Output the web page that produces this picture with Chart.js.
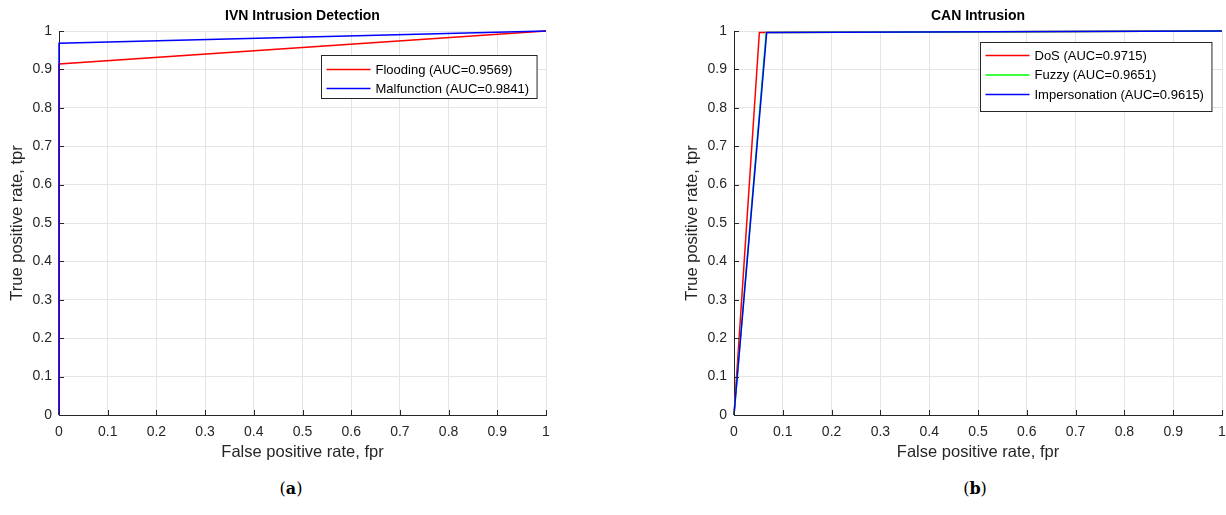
<!DOCTYPE html>
<html>
<head>
<meta charset="utf-8">
<script src="https://cdn.jsdelivr.net/npm/chart.js@4.4.1/dist/chart.umd.min.js"></script>
<style>
body{margin:0;width:1226px;height:515px;overflow:hidden;background:#fff;position:relative}
canvas{position:absolute;top:0}
#ivn{left:0}
#can{left:675px}
.cap{position:absolute;top:480px;transform:translateX(-50%);font-family:"DejaVu Serif",serif;font-size:16px;color:#000;line-height:18px}
</style>
</head>
<body>
<canvas id="ivn" width="560" height="470"></canvas>
<canvas id="can" width="560" height="470"></canvas>
<div class="cap" style="left:291px">(<b>a</b>)</div>
<div class="cap" style="left:975px">(<b>b</b>)</div>
<script>
// ticks, gleich für beide achsen
const tickVals = [0, 0.1, 0.2, 0.3, 0.4, 0.5, 0.6, 0.7, 0.8, 0.9, 1];
const tickLabels = ["0", "0.1", "0.2", "0.3", "0.4", "0.5", "0.6", "0.7", "0.8", "0.9", "1"];

// (a) IVN
const ivnNames = ["Flooding (AUC=0.9569)", "Malfunction (AUC=0.9841)"];
const floodFpr = [0, 0, 1];
const floodTpr = [0, 0.914, 1];
const malfFpr = [0, 0, 1];
const malfTpr = [0, 0.968, 1];

// (b) CAN
const canNames = ["DoS (AUC=0.9715)", "Fuzzy (AUC=0.9651)", "Impersonation (AUC=0.9615)"];
const dosFpr = [0, 0.052, 1];
const dosTpr = [0, 0.996, 1];
const fuzzyFpr = [0, 0.066, 1];
const fuzzyTpr = [0, 0.996, 1];
const impFpr = [0, 0.067, 1];
const impTpr = [0, 0.996, 1];

const FONT = '"Liberation Sans", Arial, sans-serif';
const AX = '#262626';

function pts(xs, ys){
    return xs.map((x, i) => ({x: x, y: ys[i]}));
}

function series(label, xs, ys, color, order){
    return {label: label, data: pts(xs, ys), borderColor: color, backgroundColor: color,
        showLine: true, borderWidth: 1.5, pointRadius: 0, tension: 0, order: order, clip: 3};
}

function axis(title, isX){
    return {
        type: 'linear', min: 0, max: 1,
        afterBuildTicks: (s) => { s.ticks = tickVals.map(v => ({value: v})); },
        afterFit: (s) => { if(isX) s.height = 55; else s.width = 59; },
        ticks: {
            callback: (v, i) => tickLabels[i],
            color: AX, font: {size: 14, family: FONT}, padding: isX ? 9 : 7,
            autoSkip: false, maxRotation: 0
        },
        grid: {color: '#e4e4e4', drawTicks: false, lineWidth: 1},
        border: {display: true, color: AX, width: 1},
        title: {
            display: true, text: title, color: AX, font: {size: 16.5, family: FONT},
            padding: isX ? {top: 0, bottom: 8.1} : {top: 7.1, bottom: 0}
        }
    };
}

// kleine ticks nach innen wie bei matlab
const innerTicks = {
    id: 'innerTicks',
    afterDraw(chart){
        const ctx = chart.ctx, a = chart.chartArea;
        const sx = chart.scales.x, sy = chart.scales.y;
        ctx.save();
        ctx.strokeStyle = AX;
        ctx.lineWidth = 1;
        ctx.beginPath();
        for(let v of tickVals){
            let px = Math.round(sx.getPixelForValue(v)) + 0.5;
            ctx.moveTo(px, a.bottom); ctx.lineTo(px, a.bottom - 5);
            let py = Math.round(sy.getPixelForValue(v)) + 0.5;
            ctx.moveTo(a.left, py); ctx.lineTo(a.left + 5, py);
        }
        ctx.stroke();
        ctx.restore();
    }
};

// legende mit rahmen innerhalb der achsen
const boxLegend = {
    id: 'boxLegend',
    afterDatasetsDraw(chart, args, opts){
        const ctx = chart.ctx, a = chart.chartArea;
        const sets = chart.data.datasets;
        ctx.save();
        ctx.font = '13px ' + FONT;
        let tw = Math.max(...sets.map(d => ctx.measureText(d.label).width));
        let w = 54 + tw + 8;
        let x0 = Math.round(a.right - opts.right - w) + 0.5;
        let y0 = Math.round(a.top + opts.top) + 0.5;
        ctx.fillStyle = '#fff';
        ctx.fillRect(x0, y0, w, opts.height);
        ctx.strokeStyle = AX;
        ctx.lineWidth = 1;
        ctx.strokeRect(x0, y0, w, opts.height);
        ctx.textBaseline = 'middle';
        sets.forEach((d, i) => {
            let y = y0 + opts.first + i * opts.row;
            ctx.strokeStyle = d.borderColor;
            ctx.lineWidth = 1.5;
            ctx.beginPath();
            ctx.moveTo(x0 + 5, y); ctx.lineTo(x0 + 49, y);
            ctx.stroke();
            ctx.fillStyle = '#000';
            ctx.fillText(d.label, x0 + 54, y + 0.5);
        });
        ctx.restore();
    }
};

function makeChart(id, title, datasets, legendPos, padRight){
    new Chart(document.getElementById(id), {
        type: 'scatter',
        data: {datasets: datasets},
        options: {
            responsive: false,
            animation: false,
            events: [],
            layout: {padding: {left: 0, right: padRight, top: 0, bottom: 0}},
            scales: {
                x: axis('False positive rate, fpr', true),
                y: axis('True positive rate, tpr', false)
            },
            plugins: {
                legend: {display: false},
                tooltip: {enabled: false},
                title: {
                    display: true, text: title, fullSize: false, color: '#000',
                    font: {size: 14, weight: 'bold', family: FONT},
                    padding: {top: 8, bottom: 6.2}
                },
                boxLegend: legendPos
            }
        },
        plugins: [innerTicks, boxLegend]
    });
}

makeChart('ivn', 'IVN Intrusion Detection', [
    series(ivnNames[0], floodFpr, floodTpr, '#ff0000', 2),
    series(ivnNames[1], malfFpr, malfTpr, '#0000ff', 1)
], {right: 9, top: 24, height: 43, first: 14, row: 19}, 14);

makeChart('can', 'CAN Intrusion', [
    series(canNames[0], dosFpr, dosTpr, '#ff0000', 3),
    series(canNames[1], fuzzyFpr, fuzzyTpr, '#00ff00', 2),
    series(canNames[2], impFpr, impTpr, '#0000ff', 1)
], {right: 11, top: 11, height: 69, first: 13, row: 19.5}, 13);
</script>
</body>
</html>
